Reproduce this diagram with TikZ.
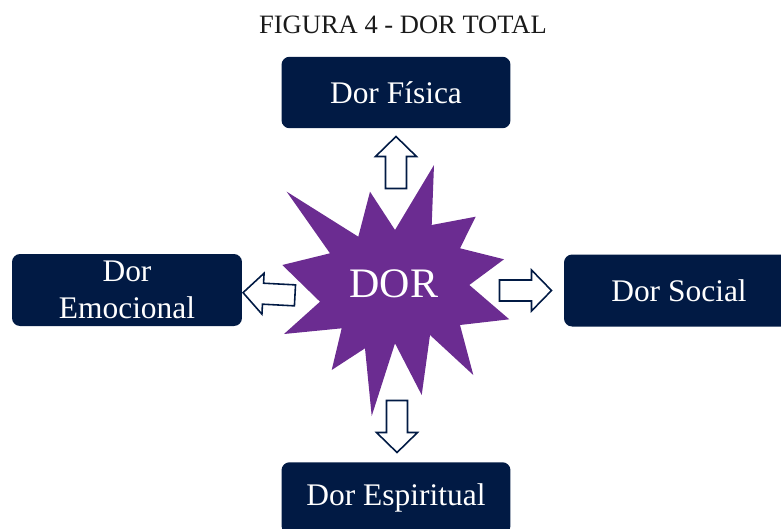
\documentclass[tikz,border=0pt]{standalone}
\usepackage{fontspec}
\setmainfont{Liberation Serif}
\definecolor{boxnavy}{HTML}{011A44}
\definecolor{dorpurple}{HTML}{6B2C91}
\definecolor{titlegray}{HTML}{1A1A1A}

\begin{document}
\begin{tikzpicture}[
    x=0.02cm, y=-0.02cm,
    box/.style={fill=boxnavy, text=white, rounded corners=0.16cm, minimum width=4.58cm, minimum height=1.43cm, inner sep=1pt, align=center, font=\fontsize{17.9}{20.9}\selectfont},
    outline/.style={draw=boxnavy, fill=white, line width=0.9pt, line join=miter},
    blockarrow/.pic={\draw[outline] (-26,-10.5) -- (6,-10.5) -- (6,-20.5) -- (26,0) -- (6,20.5) -- (6,10.5) -- (-26,10.5) -- cycle;}
]
    \useasboundingbox (0,0) rectangle (781,528);

    % Title
    \node[text=titlegray, font=\fontsize{15.1}{18}\selectfont] (title) at (403,25) {FIGURA 4 - DOR TOTAL};

    % Star
    \fill[dorpurple] (434,165) -- (431.7,225) -- (475.7,216.7) -- (460,248.3) -- (504,259.3) -- (469.3,285)
        -- (509.3,319.3) -- (460,325) -- (473.3,375) -- (430,335) -- (421.7,395) -- (395,343.3)
        -- (371.7,416) -- (365,348.3) -- (331.7,370) -- (341.7,328.3) -- (284,334) -- (320,301.7)
        -- (282.3,265) -- (330,253.3) -- (286.7,191.7) -- (358.3,236.7) -- (370,191.7) -- (395,230) -- cycle;
    \node[text=white, font=\fontsize{23.9}{28}\selectfont] (dor) at (394,284) {DOR};

    % Block arrows
    \pic[rotate=90] (upArr) at (396,162.5) {blockarrow};
    \pic[rotate=-90] (downArr) at (397,426.5) {blockarrow};
    \pic (rightArr) at (525.5,290.5) {blockarrow};
    \pic[rotate=177] (leftArr) at (269,294) {blockarrow};

    % Boxes
    \node[box] (fisica) at (396,92.5) {Dor Física};
    \node[box, minimum width=4.6cm, minimum height=1.44cm] (emocional) at (127,290) {Dor\\Emocional};
    \node[box, minimum width=4.6cm, minimum height=1.44cm] (social) at (679,290.5) {Dor Social};
    \node[box] (espiritual) at (396,498) {Dor Espiritual};
\end{tikzpicture}
\end{document}
